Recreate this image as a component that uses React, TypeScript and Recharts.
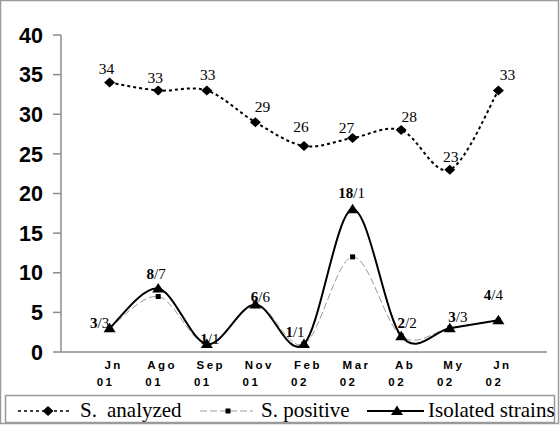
import { LineChart, Line, XAxis, YAxis, LabelList } from "recharts";

const MONTHS = ["Jn", "Ago", "Sep", "Nov", "Feb", "Mar", "Ab", "My", "Jn"];
const YEARS = ["01", "01", "01", "01", "02", "02", "02", "02", "02"];
const ANALYZED = [34, 33, 33, 29, 26, 27, 28, 23, 33];
const POSITIVE = [3, 7, 1, 6, 1, 12, 2, 3, 4];
const ISOLATED = [3, 8, 1, 6, 1, 18, 2, 3, 4];
const RATIO_RIGHT = ["3", "7", "1", "6", "1", "1", "2", "3", "4"];
const Y_TICKS = [0, 5, 10, 15, 20, 25, 30, 35, 40];

// label nudges (dx, dy of baseline) so the numbers sit where the original put them
const ANALYZED_NUDGE = [
  [-3, -9], [-3, -7], [1, -10], [7, -10], [-3, -14], [-6, -5], [8, -8], [1, -8], [9, -10],
];
const ISOLATED_NUDGE = [
  [-10, 0], [-2, -10], [3, 0], [5, -2], [-9, -7], [-1, -11], [6, -8], [8, -6], [-5, -20],
];

const SERIF = "'Liberation Serif', 'Times New Roman', serif";
const SANS = "'Liberation Sans', Arial, sans-serif";

const chartData = MONTHS.map((m, i) => ({
  pos: i + 1,
  month: m,
  analyzed: ANALYZED[i],
  positive: POSITIVE[i],
  isolated: ISOLATED[i],
}));

// Excel-like smoothing (Catmull-Rom through the points)
const excelSmooth = (context: any) => {
  let pts: number[][] = [];
  return {
    areaStart() {},
    areaEnd() {},
    lineStart() {
      pts = [];
    },
    point(x: number, y: number) {
      pts.push([+x, +y]);
    },
    lineEnd() {
      const n = pts.length;
      if (!n) return;
      context.moveTo(pts[0][0], pts[0][1]);
      for (let i = 0; i < n - 1; i++) {
        const p0 = pts[Math.max(i - 1, 0)];
        const p1 = pts[i];
        const p2 = pts[i + 1];
        const p3 = pts[Math.min(i + 2, n - 1)];
        context.bezierCurveTo(
          p1[0] + (p2[0] - p0[0]) / 6,
          p1[1] + (p2[1] - p0[1]) / 6,
          p2[0] - (p3[0] - p1[0]) / 6,
          p2[1] - (p3[1] - p1[1]) / 6,
          p2[0],
          p2[1]
        );
      }
    },
  };
};

const diamond = (cx: number, cy: number) =>
  `${cx},${cy - 5} ${cx + 5.5},${cy} ${cx},${cy + 5} ${cx - 5.5},${cy}`;
const triangle = (cx: number, cy: number) =>
  `${cx},${cy - 5.5} ${cx + 6},${cy + 4} ${cx - 6},${cy + 4}`;

function MonthTick({ x, y, payload }: any) {
  const i = payload.value - 1;
  if (i < 0 || i >= MONTHS.length) return null;
  const style = { fontFamily: SANS, fontWeight: 700, fontSize: 11.5, letterSpacing: 2.5 };
  return (
    <g>
      <text x={x + 4} y={y + 17} textAnchor="middle" fill="#000" style={style}>
        {MONTHS[i]}
      </text>
      <text x={x - 4} y={y + 34} textAnchor="middle" fill="#000" style={style}>
        {YEARS[i]}
      </text>
    </g>
  );
}

function AnalyzedLabel({ x, y, value, index }: any) {
  const [dx, dy] = ANALYZED_NUDGE[index] || [0, -9];
  return (
    <text x={x + dx} y={y + dy} textAnchor="middle" fill="#000" fontFamily={SERIF} fontSize={15.5}>
      {value}
    </text>
  );
}

function IsolatedLabel({ x, y, value, index }: any) {
  const [dx, dy] = ISOLATED_NUDGE[index] || [0, -10];
  return (
    <text x={x + dx} y={y + dy} textAnchor="middle" fill="#000" fontFamily={SERIF} fontSize={15}>
      <tspan fontWeight={700}>{value}</tspan>
      <tspan>/{RATIO_RIGHT[index]}</tspan>
    </text>
  );
}

function Legend() {
  const textStyle = { fontFamily: SERIF, fontSize: 21 };
  const ly = 411;
  return (
    <svg
      width={560}
      height={425}
      style={{ position: "absolute", left: 0, top: 0, pointerEvents: "none" }}
    >
      <rect x={0.5} y={0.5} width={558} height={423} fill="none" stroke="#9a9a9a" strokeWidth={1.5} />
      <rect x={5.5} y={395.5} width={549} height={27} fill="none" stroke="#9a9a9a" strokeWidth={1.5} />

      <line x1={18} x2={72} y1={ly} y2={ly} stroke="#000" strokeWidth={1.5} strokeDasharray="3 3" />
      <polygon points={diamond(48, ly)} fill="#000" />
      <text x={80} y={417} style={textStyle}>S.</text>
      <text x={107} y={417} style={textStyle}>analyzed</text>

      <line x1={200} x2={253} y1={ly} y2={ly} stroke="#9a9a9a" strokeWidth={1} strokeDasharray="7 3" />
      <rect x={225.5} y={ly - 2.5} width={5} height={5} fill="#000" />
      <text x={261} y={417} style={textStyle}>S. positive</text>

      <line x1={367} x2={424} y1={ly} y2={ly} stroke="#000" strokeWidth={2} />
      <polygon points={triangle(397, ly)} fill="#000" />
      <text x={428} y={417} style={textStyle}>Isolated strains</text>
    </svg>
  );
}

export default function App() {
  return (
    <div
      style={{
        position: "absolute",
        left: 0,
        top: 0,
        width: 560,
        height: 425,
        background: "#fff",
      }}
    >
      <LineChart
        width={560}
        height={425}
        data={chartData}
        margin={{ top: 35, right: 13, left: 0, bottom: 0 }}
      >
        <XAxis
          dataKey="pos"
          type="number"
          domain={[0, 10]}
          ticks={[1, 2, 3, 4, 5, 6, 7, 8, 9]}
          interval={0}
          height={73}
          tickLine={false}
          tickSize={0}
          tickMargin={0}
          axisLine={{ stroke: "#8c8c8c", strokeWidth: 1.5 }}
          tick={<MonthTick />}
        />
        <YAxis
          type="number"
          domain={[0, 40]}
          ticks={Y_TICKS}
          width={61}
          tickSize={8}
          tickMargin={10}
          axisLine={{ stroke: "#8c8c8c", strokeWidth: 1.5 }}
          tickLine={{ stroke: "#8c8c8c", strokeWidth: 1.5 }}
          tick={{ fill: "#000", fontSize: 21.5, fontWeight: 700, fontFamily: SANS }}
        />
        <Line
          dataKey="analyzed"
          type={excelSmooth as any}
          stroke="#000"
          strokeWidth={2}
          strokeDasharray="3 3"
          isAnimationActive={false}
          dot={(p: any) => <polygon key={`a${p.index}`} points={diamond(p.cx, p.cy)} fill="#000" />}
          activeDot={false}
        >
          <LabelList dataKey="analyzed" content={<AnalyzedLabel />} />
        </Line>
        <Line
          dataKey="positive"
          type={excelSmooth as any}
          stroke="#9a9a9a"
          strokeWidth={1}
          strokeDasharray="7 3"
          isAnimationActive={false}
          dot={(p: any) => (
            <rect key={`p${p.index}`} x={p.cx - 2.5} y={p.cy - 2.5} width={5} height={5} fill="#000" />
          )}
          activeDot={false}
        />
        <Line
          dataKey="isolated"
          type={excelSmooth as any}
          stroke="#000"
          strokeWidth={2}
          isAnimationActive={false}
          dot={(p: any) => <polygon key={`i${p.index}`} points={triangle(p.cx, p.cy)} fill="#000" />}
          activeDot={false}
        >
          <LabelList dataKey="isolated" content={<IsolatedLabel />} />
        </Line>
      </LineChart>
      <Legend />
    </div>
  );
}
